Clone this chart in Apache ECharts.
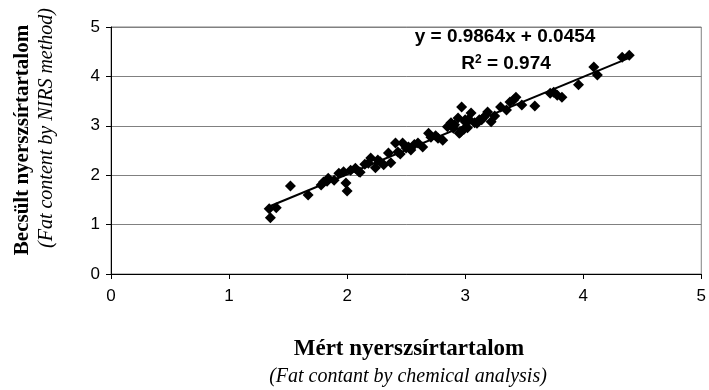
<!DOCTYPE html>
<html>
<head>
    <meta charset="UTF-8">
    <title>NIRS vs chemical fat content</title>
    <script src="https://cdn.jsdelivr.net/npm/echarts@6/dist/echarts.min.js"></script>
    <style>
        html, body { margin: 0; padding: 0; background: #fff; }
        #chart { width: 709px; height: 390px; }
    </style>
</head>
<body>
    <div id="chart"></div>
    <script>
        // measured (chemical) fat content
        var measured = [1.34, 1.40, 1.35, 1.52, 1.67, 1.78, 1.80, 1.84, 1.89, 1.93,
            1.97, 1.99, 2.00, 2.03, 2.07, 2.10, 2.11, 2.15, 2.20, 2.24,
            2.26, 2.31, 2.35, 2.37, 2.41, 2.43, 2.47, 2.52, 2.54, 2.60,
            2.64, 2.69, 2.71, 2.77, 2.81, 2.85, 2.88, 2.91, 2.94, 2.95,
            2.96, 2.97, 3.00, 3.00, 3.05, 3.08, 3.12, 3.16, 3.19, 3.22,
            3.30, 3.38, 3.43, 3.48, 3.59, 3.72, 3.78, 3.82, 3.96, 4.09,
            4.12, 4.33, 4.39,
            1.83, 2.18, 2.28, 2.45, 2.50, 2.57, 2.75, 2.90, 3.02, 3.03,
            3.10, 3.14, 3.25, 3.35, 3.41, 3.75, 2.99];
        // estimated (NIRS) fat content
        var estimated = [1.32, 1.34, 1.14, 1.78, 1.60, 1.80, 1.86, 1.94, 1.90, 2.04,
            2.07, 1.84, 1.68, 2.10, 2.14, 2.07, 2.06, 2.22, 2.35, 2.15,
            2.31, 2.21, 2.45, 2.25, 2.65, 2.47, 2.65, 2.57, 2.51, 2.65,
            2.57, 2.85, 2.77, 2.75, 2.71, 2.98, 3.06, 3.02, 3.16, 2.85,
            2.87, 3.38, 3.08, 3.12, 3.26, 3.06, 3.12, 3.18, 3.28, 3.08,
            3.38, 3.48, 3.58, 3.42, 3.40, 3.66, 3.62, 3.58, 3.83, 4.19,
            4.03, 4.39, 4.43,
            1.88, 2.24, 2.27, 2.43, 2.55, 2.62, 2.80, 2.95, 2.96, 3.14,
            3.05, 3.12, 3.20, 3.32, 3.52, 3.68, 2.93];

        // linear trendline y = 0.9864x + 0.0454
        var slope = 0.9864;
        var intercept = 0.0454;
        var trendX = [1.34, 4.39];

        var axisTicks = [0, 1, 2, 3, 4, 5];

        var points = measured.map(function (x, i) { return [x, estimated[i]]; });
        var trend = trendX.map(function (x) { return [x, slope * x + intercept]; });

        var sans = '"Liberation Sans", Arial, sans-serif';
        var serif = '"Liberation Serif", "Times New Roman", serif';

        var chart = echarts.init(document.getElementById('chart'));
        chart.setOption({
            animation: false,
            backgroundColor: '#ffffff',
            grid: {
                left: 111, top: 27, width: 594, height: 247,
                show: true, borderColor: '#808080', borderWidth: 1
            },
            xAxis: {
                type: 'value',
                min: axisTicks[0], max: axisTicks[axisTicks.length - 1], interval: 1,
                axisLine: { show: true, onZero: false, lineStyle: { color: '#000', width: 1 } },
                axisTick: { show: true, length: 5, lineStyle: { color: '#000' } },
                splitLine: { show: false },
                axisLabel: { color: '#000', fontFamily: sans, fontSize: 17, margin: 14 }
            },
            yAxis: {
                type: 'value',
                min: axisTicks[0], max: axisTicks[axisTicks.length - 1], interval: 1,
                axisLine: { show: true, onZero: false, lineStyle: { color: '#000', width: 1 } },
                axisTick: { show: true, length: 5, lineStyle: { color: '#000' } },
                splitLine: { show: true, lineStyle: { color: '#808080', width: 1 } },
                axisLabel: { color: '#000', fontFamily: sans, fontSize: 17, margin: 11 }
            },
            series: [
                {
                    type: 'scatter',
                    data: points,
                    symbol: 'diamond',
                    symbolSize: 11,
                    itemStyle: { color: '#000', opacity: 1 },
                    z: 3
                },
                {
                    type: 'line',
                    data: trend,
                    symbol: 'none',
                    lineStyle: { color: '#000', width: 2 },
                    z: 4
                }
            ],
            graphic: [
                {
                    type: 'text',
                    style: {
                        x: 505, y: 37, text: 'y = 0.9864x + 0.0454',
                        align: 'center', verticalAlign: 'middle',
                        font: 'bold 19px ' + sans, fill: '#000'
                    }
                },
                {
                    type: 'text',
                    style: {
                        x: 506, y: 64, text: '{b|R}{s|2}{b| = 0.974}',
                        align: 'center', verticalAlign: 'middle',
                        rich: {
                            b: { font: 'bold 19px ' + sans, fill: '#000' },
                            s: { font: 'bold 12px ' + sans, fill: '#000', verticalAlign: 'top', padding: [0, 0, 9, 0] }
                        }
                    }
                },
                {
                    type: 'text',
                    style: {
                        x: 409, y: 349, text: 'Mért nyerszsírtartalom',
                        align: 'center', verticalAlign: 'middle',
                        font: 'bold 23px ' + serif, fill: '#000'
                    }
                },
                {
                    type: 'text',
                    style: {
                        x: 408, y: 377, text: '(Fat contant by chemical analysis)',
                        align: 'center', verticalAlign: 'middle',
                        font: 'italic 20px ' + serif, fill: '#000'
                    }
                },
                {
                    type: 'text', x: 23, y: 140, rotation: Math.PI / 2,
                    style: {
                        x: 0, y: 0, text: 'Becsült nyerszsírtartalom',
                        align: 'center', verticalAlign: 'middle',
                        font: 'bold 21px ' + serif, fill: '#000'
                    }
                },
                {
                    type: 'text', x: 47, y: 128, rotation: Math.PI / 2,
                    style: {
                        x: 0, y: 0, text: '(Fat content by NIRS method)',
                        align: 'center', verticalAlign: 'middle',
                        font: 'italic 20px ' + serif, fill: '#000'
                    }
                }
            ]
        });
    </script>
</body>
</html>
